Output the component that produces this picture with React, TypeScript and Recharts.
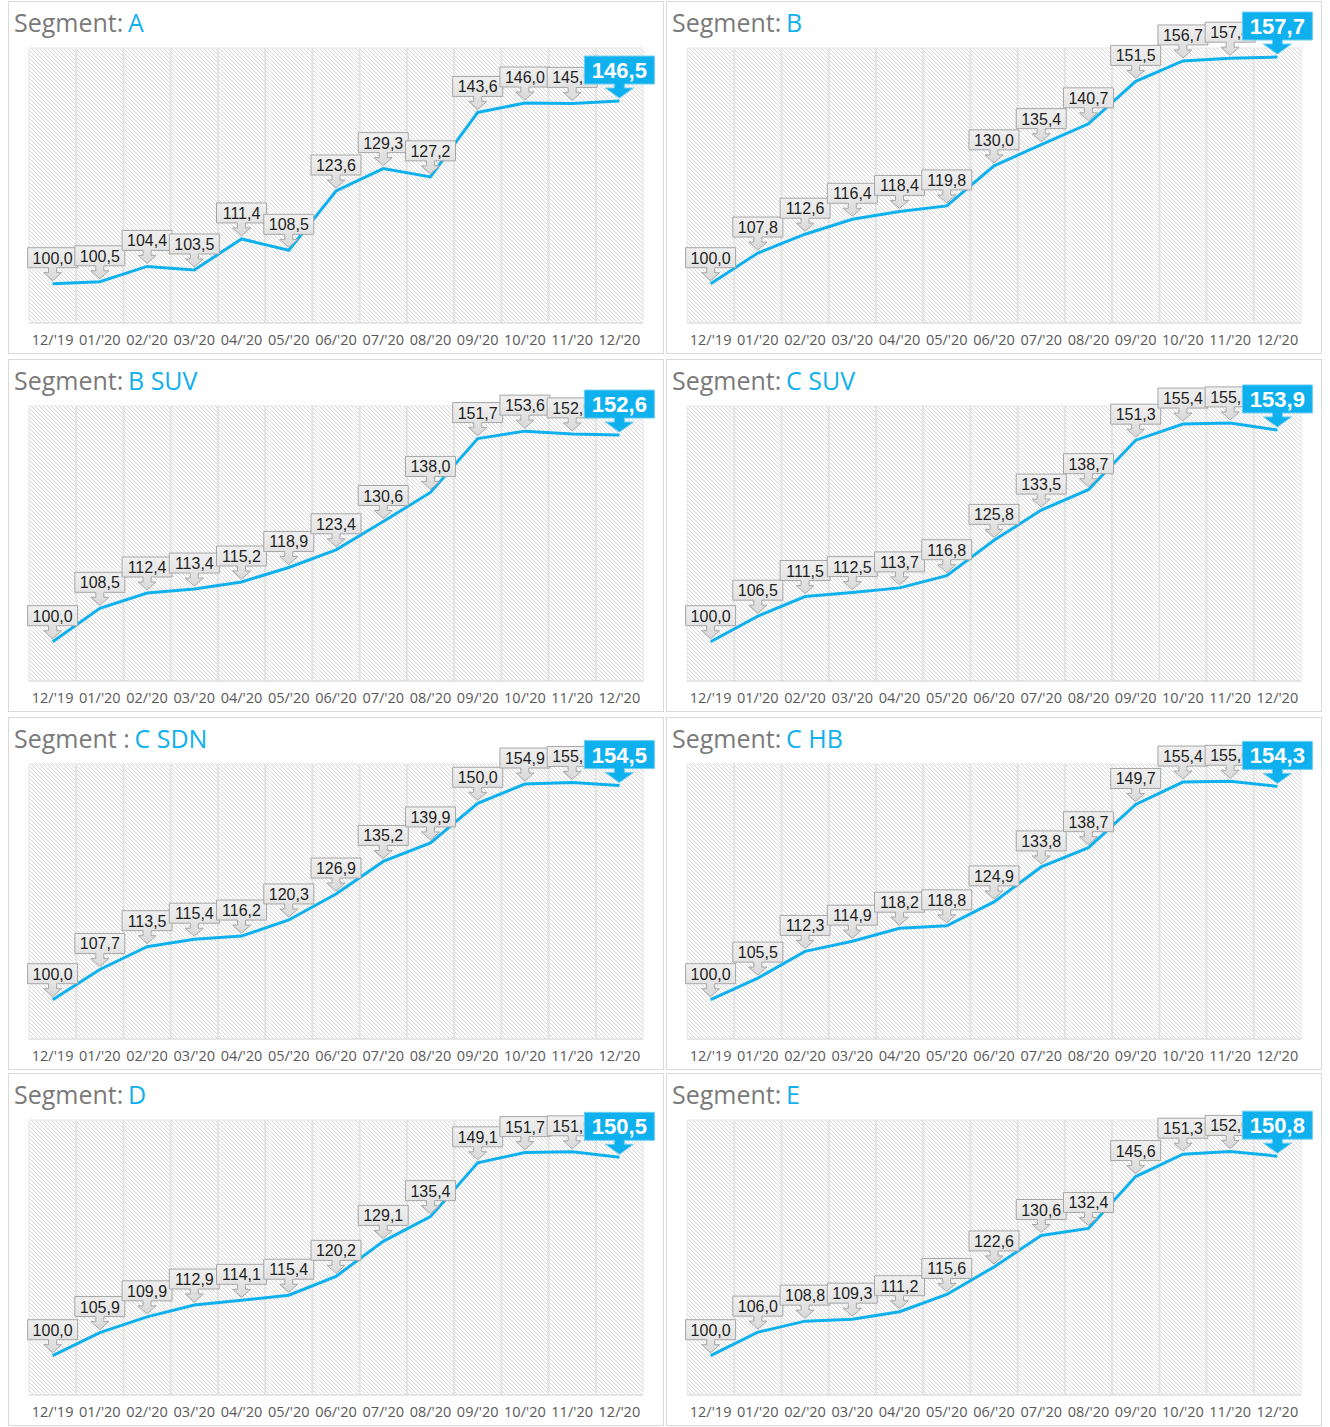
import React from "react";
import {
  LineChart,
  Line,
  XAxis,
  YAxis,
  ReferenceArea,
  ReferenceLine,
  LabelList,
} from "recharts";

const months = [
  "12/'19", "01/'20", "02/'20", "03/'20", "04/'20", "05/'20", "06/'20",
  "07/'20", "08/'20", "09/'20", "10/'20", "11/'20", "12/'20",
];

const segA = [100.0, 100.5, 104.4, 103.5, 111.4, 108.5, 123.6, 129.3, 127.2, 143.6, 146.0, 145.9, 146.5];
const segB = [100.0, 107.8, 112.6, 116.4, 118.4, 119.8, 130.0, 135.4, 140.7, 151.5, 156.7, 157.4, 157.7];
const segBSuv = [100.0, 108.5, 112.4, 113.4, 115.2, 118.9, 123.4, 130.6, 138.0, 151.7, 153.6, 152.9, 152.6];
const segCSuv = [100.0, 106.5, 111.5, 112.5, 113.7, 116.8, 125.8, 133.5, 138.7, 151.3, 155.4, 155.7, 153.9];
const segCSdn = [100.0, 107.7, 113.5, 115.4, 116.2, 120.3, 126.9, 135.2, 139.9, 150.0, 154.9, 155.3, 154.5];
const segCHb = [100.0, 105.5, 112.3, 114.9, 118.2, 118.8, 124.9, 133.8, 138.7, 149.7, 155.4, 155.6, 154.3];
const segD = [100.0, 105.9, 109.9, 112.9, 114.1, 115.4, 120.2, 129.1, 135.4, 149.1, 151.7, 151.9, 150.5];
const segE = [100.0, 106.0, 108.8, 109.3, 111.2, 115.6, 122.6, 130.6, 132.4, 145.6, 151.3, 152.0, 150.8];

const prefixes = ["Segment:", "Segment:", "Segment:", "Segment:", "Segment :", "Segment:", "Segment:", "Segment:"];
const names = ["A", "B", "B SUV", "C SUV", "C SDN", "C HB", "D", "E"];
const series = [segA, segB, segBSuv, segCSuv, segCSdn, segCHb, segD, segE];

const BLUE = "#0fb0ee";
const W = 656;
const H = 353;
const lefts = [8, 666];
const tops = [1, 359, 717, 1073];

const fmt = (v: number) => v.toFixed(1).replace(".", ",");

function Callout(props: any) {
  const { x, y, value, index, last } = props;
  if (x == null || y == null) return null;
  const big = index === last;
  const text = fmt(Number(value));
  const tip = y - 3;
  if (big) {
    const w = 70, h = 28, ah = 14, sw = 5, hw = 14;
    const by = tip - ah;
    const d = `M${x - w / 2},${by - h} L${x + w / 2},${by - h} L${x + w / 2},${by} L${x + sw},${by} L${x + sw},${by + 4} L${x + hw},${by + 4} L${x},${tip} L${x - hw},${by + 4} L${x - sw},${by + 4} L${x - sw},${by} L${x - w / 2},${by} Z`;
    return (
      <g>
        <path d={d} fill={BLUE} stroke="#6ccdf3" strokeWidth={1} />
        <text x={x} y={by - h / 2 + 8} textAnchor="middle" fill="#fff" fontSize={22} fontWeight="bold" fontFamily="'Liberation Sans', Arial, sans-serif">
          {text}
        </text>
      </g>
    );
  }
  const w = 50, h = 20, ah = 13, sw = 4, hw = 9;
  const by = tip - ah;
  const d = `M${x - w / 2},${by - h} L${x + w / 2},${by - h} L${x + w / 2},${by} L${x + sw},${by} L${x + sw},${by + 5} L${x + hw},${by + 5} L${x},${tip} L${x - hw},${by + 5} L${x - sw},${by + 5} L${x - sw},${by} L${x - w / 2},${by} Z`;
  return (
    <g>
      <path d={d} fill="url(#calloutGrad)" stroke="#a6a6a6" strokeWidth={1} />
      <text x={x} y={by - h / 2 + 6} textAnchor="middle" fill="#1f1f1f" fontSize={16} fontFamily="'Liberation Sans', Arial, sans-serif">
        {text}
      </text>
    </g>
  );
}

function Panel({ idx }: { idx: number }) {
  const values = series[idx];
  const data = values.map((v, i) => ({ i, v }));
  const last = values.length - 1;
  const bounds = months.slice(1).map((_, k) => k + 0.5);
  const hatchId = `hatch${idx}`;
  return (
    <div
      style={{
        position: "absolute",
        left: lefts[idx % 2],
        top: tops[Math.floor(idx / 2)],
        width: W,
        height: H,
        border: "1px solid #d9d9d9",
        boxSizing: "border-box",
        background: "#fff",
      }}
    >
      <div
        style={{
          position: "absolute",
          left: 5,
          top: 4,
          fontFamily: "'Open Sans', sans-serif",
          fontSize: 25,
          lineHeight: "32px",
          color: "#7a7a7a",
          whiteSpace: "pre",
        }}
      >
        {prefixes[idx]}<span style={{ fontSize: 18 }}> </span><span style={{ color: BLUE }}>{names[idx]}</span>
      </div>
      <LineChart
        width={W - 2}
        height={H - 2}
        data={data}
        margin={{ top: 46, right: 20, bottom: 0, left: 20 }}
      >
        <defs>
          <pattern id={hatchId} width={4} height={4} patternUnits="userSpaceOnUse">
            <rect width={4} height={4} fill="#ffffff" />
            <path d="M-1,-1 L5,5 M-1,3 L1,5 M3,-1 L5,1" stroke="#d6d6d6" strokeWidth={1} />
          </pattern>
          <linearGradient id="calloutGrad" x1="0" y1="0" x2="0" y2="1">
            <stop offset="0%" stopColor="#f0f0f0" />
            <stop offset="100%" stopColor="#d9d9d9" />
          </linearGradient>
        </defs>
        <XAxis
          dataKey="i"
          type="number"
          domain={[-0.5, 12.5]}
          ticks={data.map((d) => d.i)}
          interval={0}
          tickFormatter={(t: number) => months[t]}
          tickLine={false}
          tickMargin={6}
          height={30}
          axisLine={{ stroke: "#d9d9d9" }}
          tick={{ fontSize: 14.5, fill: "#595959", fontFamily: "'Open Sans', sans-serif" }}
        />
        <YAxis hide domain={[90, 160]} />
        <ReferenceArea
          x1={-0.5}
          x2={12.5}
          y1={90}
          y2={160}
          fill={`url(#${hatchId})`}
          fillOpacity={1}
          stroke="#e6e6e6"
          strokeWidth={1}
        />
        {bounds.map((b) => (
          <ReferenceLine key={b} x={b} stroke="#e3e3e3" strokeWidth={2} />
        ))}
        <Line
          dataKey="v"
          type="linear"
          stroke={BLUE}
          strokeWidth={3}
          dot={false}
          isAnimationActive={false}
        >
          <LabelList dataKey="v" content={(p: any) => <Callout {...p} last={last} />} />
        </Line>
      </LineChart>
    </div>
  );
}

export default function App() {
  return (
    <div style={{ position: "absolute", left: 0, top: 0, width: 1330, height: 1427, background: "#fff" }}>
      {series.map((_, idx) => (
        <Panel key={idx} idx={idx} />
      ))}
    </div>
  );
}
